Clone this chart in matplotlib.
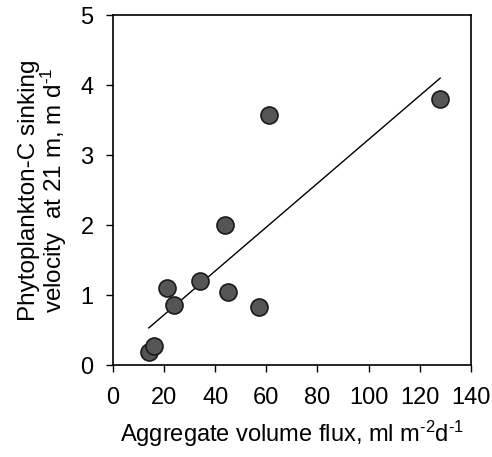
import matplotlib
matplotlib.use("Agg")
import matplotlib.pyplot as plt
import numpy as np

plt.rcParams['font.family'] = ['Liberation Sans', 'DejaVu Sans']
plt.rcParams['mathtext.fontset'] = 'custom'
plt.rcParams['mathtext.rm'] = 'Liberation Sans'
plt.rcParams['mathtext.it'] = 'Liberation Sans'
plt.rcParams['mathtext.default'] = 'regular'

flux = [14, 16, 21, 24, 34, 44, 45, 57, 61, 128]
velocity = [0.19, 0.27, 1.10, 0.86, 1.20, 2.00, 1.05, 0.83, 3.57, 3.80]
fit_slope = 0.0313
fit_intercept = 0.092
fit_range = [14, 128]
xticks = [0, 20, 40, 60, 80, 100, 120, 140]
yticks = [0, 1, 2, 3, 4, 5]

fig = plt.figure(figsize=(4.92, 4.57), dpi=100)
ax = fig.add_axes([0.2297, 0.2013, 0.7273, 0.7658])

fx = np.array(fit_range, dtype=float)
ax.plot(fx, fit_slope * fx + fit_intercept, color='black', lw=1.0, zorder=2)
ax.scatter(flux, velocity, s=150, facecolor='#555555', edgecolor='#1a1a1a',
           linewidth=1.2, zorder=3)

ax.set_xlim(0, 140)
ax.set_ylim(0, 5)
ax.set_xticks(xticks)
ax.set_yticks(yticks)
ax.tick_params(direction='out', length=5, width=1, labelsize=17)
ax.tick_params(axis='x', pad=11)
ax.tick_params(axis='y', pad=9)
for s in ax.spines.values():
    s.set_linewidth(1.2)

ax.set_xlabel(r'Aggregate volume flux, ml m$^{\text{-2}}$d$^{\text{-1}}$', fontsize=17, labelpad=7)
ax.set_ylabel('Phytoplankton-C sinking\nvelocity  at 21 m, m d$^{\\text{-1}}$', fontsize=17.5,
              labelpad=8, linespacing=0.95)

fig.savefig('out.png', dpi=100)
